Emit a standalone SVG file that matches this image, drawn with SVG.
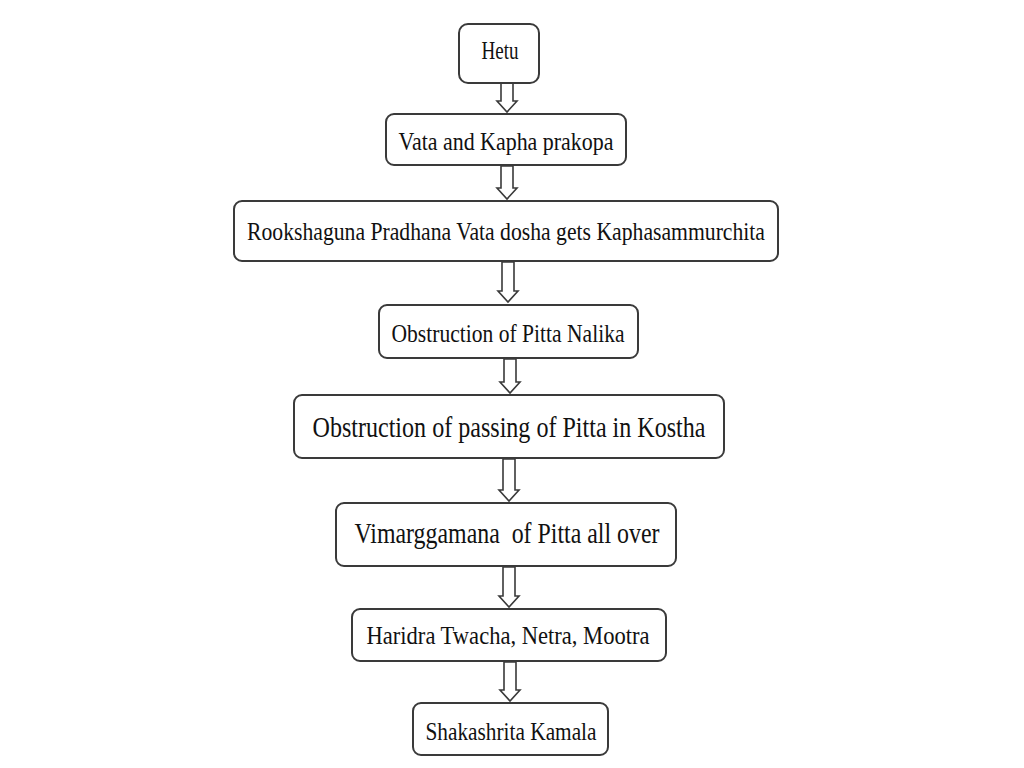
<svg xmlns="http://www.w3.org/2000/svg" width="1024" height="768" viewBox="0 0 1024 768">
<style>
.b{fill:#fff;stroke:#3a3a3a;stroke-width:2}
.a{fill:#fff;stroke:#3a3a3a;stroke-width:1.6;stroke-linejoin:miter}
text{font-family:"Liberation Serif",serif;fill:#111;text-anchor:middle}
.s{font-size:25px}.l{font-size:29px}
</style>
<rect width="1024" height="768" fill="#fff"/>
<g id="connectors">
<path class="a" d="M501,83V101H497L507,112L517,101H513V83Z"/>
<path class="a" d="M501,166V188H497L507,199L517,188H513V166Z"/>
<path class="a" d="M502,262V291H498L508,302L518,291H514V262Z"/>
<path class="a" d="M504,359V382H500L510,393L520,382H516V359Z"/>
<path class="a" d="M503,459V490H499L509,501L519,490H515V459Z"/>
<path class="a" d="M503,567V596H499L509,607L519,596H515V567Z"/>
<path class="a" d="M504,662V690H500L510,701L520,690H516V662Z"/>
</g>
<g id="n1"><rect class="b" x="459" y="24" width="80" height="59" rx="9"/><text class="s" x="500" y="59" textLength="37" lengthAdjust="spacingAndGlyphs">Hetu</text></g>
<g id="n2"><rect class="b" x="386" y="114" width="240" height="51" rx="8"/><text class="s" x="506" y="150" textLength="215" lengthAdjust="spacingAndGlyphs">Vata and Kapha prakopa</text></g>
<g id="n3"><rect class="b" x="234" y="201" width="544" height="60" rx="8"/><text class="s" x="506" y="240" textLength="518" lengthAdjust="spacingAndGlyphs">Rookshaguna Pradhana Vata dosha gets Kaphasammurchita</text></g>
<g id="n4"><rect class="b" x="379" y="305" width="259" height="53" rx="8"/><text class="s" x="508" y="342" textLength="233" lengthAdjust="spacingAndGlyphs">Obstruction of Pitta Nalika</text></g>
<g id="n5"><rect class="b" x="294" y="395" width="430" height="63" rx="8"/><text class="l" x="509" y="437" textLength="393" lengthAdjust="spacingAndGlyphs">Obstruction of passing of Pitta in Kostha</text></g>
<g id="n6"><rect class="b" x="336" y="503" width="340" height="63" rx="8"/><text class="l" x="507" y="543" textLength="305" lengthAdjust="spacingAndGlyphs" xml:space="preserve">Vimarggamana  of Pitta all over</text></g>
<g id="n7"><rect class="b" x="352" y="609" width="314" height="52" rx="8"/><text class="s" x="508" y="644" textLength="283" lengthAdjust="spacingAndGlyphs">Haridra Twacha, Netra, Mootra</text></g>
<g id="n8"><rect class="b" x="413" y="703" width="195" height="52" rx="8"/><text class="s" x="511" y="740" textLength="171" lengthAdjust="spacingAndGlyphs">Shakashrita Kamala</text></g>
</svg>
